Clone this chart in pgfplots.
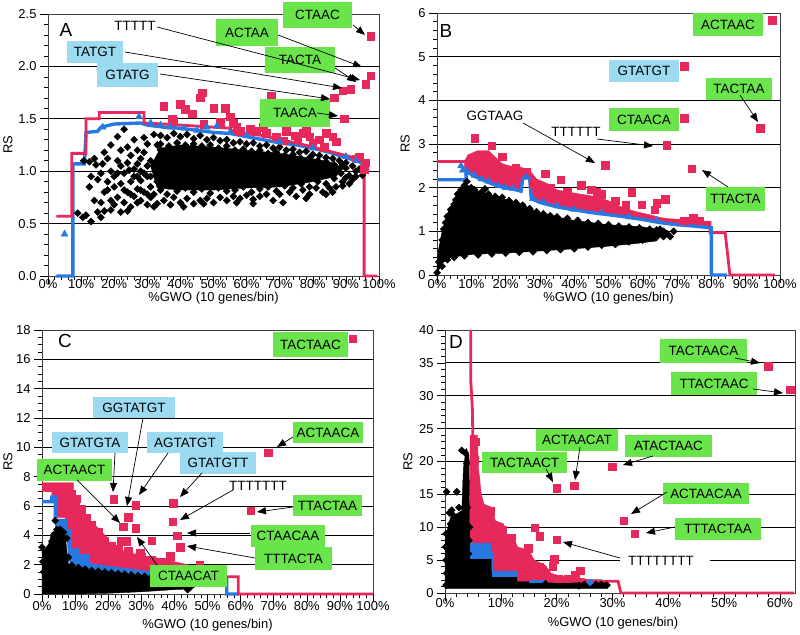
\documentclass[border=0pt]{standalone}
\usepackage{fontspec}
\setmainfont{Liberation Sans}
\usepackage{pgfplots}
\pgfplotsset{compat=1.18}
\usetikzlibrary{arrows.meta}

\definecolor{myred}{RGB}{230,40,90}
\definecolor{myblue}{RGB}{40,120,225}
\definecolor{mygreen}{RGB}{105,228,75}
\definecolor{myltblue}{RGB}{155,218,240}

\tikzset{
  lab/.style={font=\fontsize{13.5}{14}\selectfont, inner sep=0pt},
  arr/.style={-{Triangle[length=9bp,width=7bp]}, line width=0.7bp, black},
}
\newcommand{\gbox}[5]{\fill[mygreen] (#1,{635-#2}) rectangle (#3,{635-#4}); \node[lab] at ({(#1+#3)/2},{635-(#2+#4)/2}) {#5};}
\newcommand{\bbox}[5]{\fill[myltblue] (#1,{635-#2}) rectangle (#3,{635-#4}); \node[lab] at ({(#1+#3)/2},{635-(#2+#4)/2}) {#5};}
\newcommand{\wlab}[3]{\node[lab, fill=white, inner xsep=2bp, inner ysep=1.5bp] at (#1,{635-#2}) {#3};}
\newcommand{\arw}[4]{\draw[arr] (#1,{635-#2}) -- (#3,{635-#4});}

\pgfplotsset{
  panel/.style={
    scale only axis,
    anchor=south west,
    xmin=0, ymin=0,
    axis line style={line width=0.6bp, black!75},
    tick style={black, line width=0.6bp},
    tick align=outside,
    major tick length=8bp,
    minor tick length=4bp,
    xtick pos=left, ytick pos=left,
    ymajorgrids,
    grid style={black, line width=0.8bp},
    minor x tick num=4,
    tick label style={font=\fontsize{13}{13}\selectfont},
    label style={font=\fontsize{13}{13}\selectfont},
    /pgf/number format/assume math mode=true,
    xticklabel={\pgfmathprintnumber{\tick}\%},
    xlabel={\%GWO (10 genes/bin)},
    ylabel={RS},
    ylabel style={anchor=center},
    xlabel style={anchor=center},
    clip=false,
  },
  bk/.style={only marks, mark=square*, mark size=2.5, mark options={rotate=45, fill=black, draw=black}},
  rq/.style={only marks, mark=square*, mark size=3.8, mark options={fill=myred, draw=myred}},
  bt/.style={only marks, mark=triangle*, mark size=4, mark options={fill=myblue, draw=myblue}},
  rl/.style={myred, line width=2.8bp, no marks},
  bl/.style={myblue, line width=3.4bp, no marks},
  bfill/.style={fill=black, draw=black, no marks},
  rfill/.style={fill=myred, draw=myred, no marks},
  blfill/.style={fill=myblue, draw=myblue, no marks},
}

\begin{document}
\begin{tikzpicture}
% ---------------- Panel A ----------------
\begin{axis}[panel, at={(48bp,359bp)}, width=331bp, height=262bp,
  xmax=100, ymax=2.5, xtick={0,10,...,100}, ytick={0,0.5,1,1.5,2,2.5},
  minor y tick num=4,
  yticklabel style={/pgf/number format/.cd, fixed, fixed zerofill, precision=1},
  xticklabel style={yshift=8bp},
  xlabel style={at={(axis description cs:0.5,-0.086)}},
  ylabel style={at={(axis description cs:-0.121,0.5)}}]
\addplot[bfill] coordinates {(33,0.84) (40,0.82) (50,0.82) (60,0.84) (70,0.85) (80,0.9) (87,0.95) (89,1.02) (86,1.08) (80,1.12) (70,1.17) (60,1.2) (50,1.23) (40,1.25) (34,1.22) (31,1.05)} --cycle;
\addplot[bk] coordinates {(9,0.6) (10.5,0.56) (11.5,0.58) (13,0.52) (10.8,1.1) (12.5,1.09) (14.5,1.06) (16.5,1.07) (17,1.18) (21,1.33) (23,1.4) (12.5,0.85) (14,0.72) (15,0.61) (16,0.56) (19,0.63) (22,0.61) (17,0.8) (18,0.9) (21,0.75) (24,1.23) (24.5,1.01) (27,1.07) (30,1.26) (30,0.68) (33,0.69) (28,0.91) (15,0.92) (16,0.98) (18,0.82) (19,1.0) (19,0.72) (20,0.85) (20,0.95) (21,1.1) (22,0.88) (22,1.2) (23,0.7) (23,0.98) (24,0.8) (25,0.66) (25,0.9) (25,1.15) (26,0.76) (26,0.95) (26,1.3) (27,0.83) (27,1.2) (28,0.72) (28,1.0) (28,1.12) (29,0.8) (29,1.32) (30,0.95) (31,0.75) (31,1.1) (32,0.66) (32,1.35) (33,0.9) (34,1.2) (35,0.72) (37,0.68) (38,0.75) (40,0.7) (42,0.74) (44,0.69) (46,0.72) (48,0.74) (50,0.7) (52,0.75) (54,0.72) (56,0.76) (57,0.7) (58,0.74) (60,0.77) (62,0.73) (64,0.76) (66,0.78) (68,0.72) (70,0.78) (71,0.7) (73,0.8) (75,0.76) (77,0.82) (79,0.78) (81,0.84) (83,0.8) (85,0.84) (87,0.85) (89,0.9) (91,0.88) (93,0.95) (95,0.96) (34,1.34) (36,1.32) (38,1.36) (40,1.33) (42,1.35) (44,1.31) (46,1.34) (48,1.3) (50,1.32) (52,1.29) (54,1.3) (56,1.27) (58,1.28) (60,1.26) (62,1.27) (64,1.24) (66,1.25) (68,1.22) (70,1.23) (72,1.2) (74,1.21) (76,1.18) (78,1.19) (80,1.16) (82,1.15) (84,1.13) (86,1.12) (88,1.1) (90,1.08) (92,1.05) (93,1.0) (94,1.02) (86,0.8) (84,0.78) (89,0.86) (78,0.74) (62,0.69) (47,0.69) (41,0.66) (36,0.78) (33,1.0) (31,0.85) (32,1.05)
(34,0.82) (36.5,0.86) (39,0.81) (41.5,0.84) (44,0.8) (46.5,0.83) (49,0.79) (51.5,0.84) (54,0.81) (56.5,0.82) (59,0.85) (61.5,0.8) (64,0.83) (66.5,0.85) (69,0.81) (71.5,0.86) (74,0.84) (76.5,0.88) (79,0.85) (81.5,0.9) (84,0.88) (86.5,0.93) (88.5,0.98) (90,1.03)
(34,1.26) (36.5,1.24) (39,1.27) (41.5,1.25) (44,1.26) (46.5,1.24) (49,1.25) (51.5,1.22) (54,1.24) (56.5,1.2) (59,1.21) (61.5,1.19) (64,1.2) (66.5,1.17) (69,1.18) (71.5,1.15) (74,1.16) (76.5,1.12) (79,1.13) (81.5,1.1) (84,1.09) (86.5,1.06) (88.5,1.04)
(13,0.95) (14,1.12) (16,0.7) (17,0.62) (18,1.12) (19,1.25) (20,0.68) (21,0.98) (22,1.05) (23,0.82) (24,0.62) (24,1.08) (25,0.78) (26,1.02) (27,0.7) (27,0.95) (28,0.82) (29,0.98) (29,1.18) (30,0.78) (30,1.05) (31,0.95) (32,0.78) (33,1.25) (35,1.15) (35,0.95) (87,1.0) (89,1.06) (91,0.96) (92,0.92) (90,0.94)};
\addplot[rq] coordinates {(35,1.62) (37.5,1.50) (40,1.64) (41.5,1.59) (43.5,1.55) (46,1.70) (46.5,1.75) (50,1.60) (53.5,1.60) (55,1.52) (56,1.46) (58,1.38) (57,1.42) (67.5,1.72) (65,1.42) (66,1.36) (69,1.33) (71,1.29) (74.5,1.34) (77,1.36) (79,1.33) (80,1.27) (83.5,1.23) (86,1.33) (87,1.28) (86.5,1.70) (89,1.77) (91.5,1.78) (89.5,1.50) (96,1.83) (97.5,1.91) (97.5,2.29) (94,1.14) (96,1.08) (95.5,1.02) (93,1.12) (61,1.40) (63,1.38) (72,1.38) (75.5,1.30) (82,1.30) (78,1.40) (84,1.36) (47,1.45) (52,1.47) (38,1.48)};
\addplot[bl] coordinates {(2.5,0) (7.5,0) (7.5,1.07) (11,1.07) (11.5,1.37) (15,1.38) (16,1.42) (20,1.45) (28,1.46) (30,1.44) (35,1.42) (40,1.41) (45,1.39) (50,1.37) (55,1.36) (60,1.33) (65,1.3) (70,1.27) (75,1.25) (80,1.22) (85,1.18) (90,1.13) (94,1.09) (95,1.07)};
\addplot[bt] coordinates {(5,0.40) (16.5,1.42) (27.5,1.52) (31,1.46) (34,1.44) (37,1.42) (41,1.41) (45,1.39) (48,1.42) (51,1.43) (55,1.37) (60,1.34) (70,1.28) (80,1.22) (90,1.14) (93,1.1)};
\addplot[rl] coordinates {(2.5,0.57) (7.2,0.57) (7.2,1.17) (11.5,1.17) (11.5,1.50) (15.5,1.50) (15.5,1.56) (29,1.56) (29,1.46) (35,1.45) (40,1.44) (50,1.42) (55,1.41) (56,1.37) (65,1.34) (70,1.3) (75,1.27) (80,1.23) (85,1.19) (90,1.15) (95.5,1.1) (95.5,0) (99.5,0)};
\end{axis}

% ---------------- Panel B ----------------
\begin{axis}[panel, at={(437bp,360bp)}, width=343bp, height=262bp,
  xmax=100, ymax=6, xtick={0,10,...,100}, ytick={0,1,2,3,4,5,6},
  minor y tick num=4,
  xticklabel style={yshift=7bp},
  xlabel style={at={(axis description cs:0.5,-0.09)}},
  ylabel style={at={(axis description cs:-0.093,0.5)}}]
\addplot[rfill] coordinates {(8,2.45) (8,2.6) (9,2.75) (12,2.85) (15,2.85) (17,2.7) (19,2.55) (21,2.5) (24,2.48) (27,2.4) (29,2.2) (32,2.1) (35,1.95) (38,1.9) (42,1.85) (46,1.8) (50,1.7) (54,1.55) (58,1.45) (62,1.38) (66,1.3) (70,1.25) (76,1.22) (79.6,1.2) (79.6,1.1) (70,1.15) (60,1.27) (50,1.38) (40,1.49) (30,1.66) (27.5,1.75) (27,2.2) (25,2.2) (24.5,1.92) (18,2.03) (12,2.22)} --cycle;
\addplot[rq] coordinates {(11,3.13) (16,2.96) (19,2.71) (13,2.75) (14,2.6) (17,2.55) (21,2.4) (23,2.45) (26,2.35) (31.5,2.32) (36,2.18) (42,2.06) (45,1.95) (46.5,1.9) (48,1.85) (56.8,1.89) (59.7,1.61) (64,1.64) (66.5,1.74) (63.5,1.5) (74.7,1.30) (76.5,1.24) (72,1.24) (49,2.51) (67,2.97) (72.1,3.59) (72.1,4.78) (74.3,2.43) (94.2,3.36) (97.8,5.83) (33,2.0) (38,1.9) (52,1.7) (55,1.6) (28,2.1) (30,2.0)};
\addplot[bfill] coordinates {(0,0) (1,0.2) (2,0.3) (4,0.4) (8,0.45) (12,0.48) (20,0.5) (30,0.55) (40,0.6) (50,0.66) (58,0.72) (64,0.78) (66,0.95) (64,1.05) (60,1.1) (55,1.13) (50,1.15) (45,1.2) (40,1.25) (35,1.33) (30,1.43) (27,1.52) (25,1.62) (20,1.73) (17,1.8) (12,1.92) (9,2.05) (7,1.98) (5,1.7) (3,1.4) (1.5,1.0) (0.5,0.6) (0,0.3)} --cycle;
\addplot[bk] coordinates {(0,0.05) (0.5,0.3) (1,0.55) (1.5,0.8) (2,1.05) (2.5,1.2) (3,1.34) (3.5,1.25) (4,1.5) (5,1.62) (5.5,1.72) (6,1.85) (7,1.95) (8,2.05) (8.7,2.14) (10,2.0) (11,1.95) (13,1.9) (14,1.97) (15,1.85) (17,1.8) (19,1.78) (21,1.7) (23,1.66) (25,1.6) (27,1.52) (29,1.45) (31,1.4) (33,1.36) (35,1.33) (38,1.3) (41,1.25) (44,1.2) (47,1.18) (50,1.15) (53,1.12) (56,1.1) (59,1.08) (62,1.05) (64,1.03) (66,1.0) (63,0.85) (66,0.88) (68,0.88) (67,0.95) (60,0.8) (56,0.76) (52,0.7) (48,0.68) (44,0.64) (40,0.6) (36,0.58) (32,0.56) (28,0.53) (24,0.52) (20,0.5) (16,0.48) (12,0.46) (8,0.44) (5,0.4) (3,0.35) (1.5,0.2) (62,0.95) (65,1.05) (69,1.0)};
\addplot[rl] coordinates {(0,2.6) (8.5,2.6)};
\addplot[rl] coordinates {(45,1.55) (50,1.45) (55,1.38) (60,1.33) (65,1.28) (70,1.25) (75,1.22) (79.6,1.2) (79.6,0.97) (84,0.97) (85.4,0) (98.5,0)};
\addplot[bl] coordinates {(0,2.18) (8.5,2.18) (8.5,2.4) (10,2.3) (12,2.22) (15,2.12) (18,2.03) (22,1.97) (24.5,1.92) (25,2.22) (27,2.22) (27.5,1.75) (30,1.66) (35,1.56) (40,1.49) (45,1.43) (50,1.38) (55,1.33) (60,1.27) (65,1.2) (70,1.15) (75,1.12) (80,1.08) (80,0) (84.5,0)};
\addplot[bt] coordinates {(7,2.5) (7.5,2.4) (9,2.35) (11,2.28) (13,2.2) (15,2.15) (18,2.05) (20,2.0) (22,1.98) (26,2.25) (28,1.75) (31,1.68) (35,1.58) (40,1.5) (48,1.42) (56,1.33) (64,1.25)};
\end{axis}

% ---------------- Panel C ----------------
\begin{axis}[panel, at={(42bp,41bp)}, width=331bp, height=264bp,
  xmax=100, ymax=18, xtick={0,10,...,100}, ytick={0,2,...,18},
  minor y tick num=3,
  xticklabel style={yshift=4bp},
  xlabel style={at={(axis description cs:0.5,-0.117)}},
  ylabel style={at={(axis description cs:-0.103,0.5)}}]
\addplot[blfill] coordinates {(4,5.1) (7,5.1) (7,4.3) (8.5,4.3) (8.5,3.1) (11,3.1) (11,2.6) (14,2.6) (14,2.0) (17,1.9) (22,1.75) (27,1.6) (32,1.45) (40,1.3) (45,1.2) (45,0.95) (40,1.0) (32,1.15) (27,1.3) (22,1.42) (17,1.55) (14,1.65) (11,1.85) (8.5,2.0) (8,2.6) (7.5,3.8) (7,4.1) (6,4.3) (4,4.3)} --cycle;
\addplot[bfill] coordinates {(0,0) (0,3.0) (1,3.1) (2,3.4) (3,4.2) (4,4.3) (5,4.4) (6,4.3) (7,4.0) (7.5,3.0) (8,2.0) (10,1.85) (14,1.6) (18,1.5) (22,1.4) (26,1.3) (30,1.2) (34,1.1) (38,1.0) (42,0.95) (45,0.85) (45,0.35) (40,0.3) (30,0.15) (20,0.05) (10,0)} --cycle;
\addplot[bk] coordinates {(0,3.2) (4,5.0) (1,2.8) (2,3.0) (3,3.6) (3.5,4.0) (4.5,4.4) (5.5,4.4) (6.5,4.2) (7.5,3.8) (8,2.5) (9,1.95) (11,1.8) (13,1.7) (15,1.6) (17,1.55) (19,1.5) (21,1.45) (23,1.4) (25,1.35) (27,1.3) (29,1.25) (31,1.2) (33,1.15) (35,1.1) (37,1.05) (39,1.0) (41,0.95) (43,0.9) (45,0.85) (45,0.5) (44,0.3) (0.5,1.5) (0.3,2.2) (46,0.7)};
\addplot[rfill] coordinates {(0,7.6) (9.5,7.6) (9.5,7.0) (10,6.0) (12,5.7) (12.5,5.2) (15,4.8) (16.5,4.6) (19.5,3.9) (20,3.4) (23.5,3.0) (27,2.8) (30,2.6) (34,2.5) (38,2.3) (42,2.1) (46,1.9) (50,1.6) (54,1.4) (55.8,1.2) (55.8,1.0) (50,1.1) (45,1.2) (40,1.3) (32,1.45) (27,1.6) (22,1.75) (17,1.9) (14,2.0) (14,2.6) (11,2.6) (11,3.1) (8.5,3.1) (8.5,4.3) (7,4.3) (7,5.2) (4,5.2) (4,6.7) (3,6.7) (3,7.0) (0,7.0)} --cycle;
\addplot[rq] coordinates {(21.6,6.45) (28.3,6.07) (26.1,5.23) (24.6,4.59) (28.3,4.48) (24,3.6) (25.5,3.6) (33.2,3.64) (29.6,2.82) (39.7,6.18) (39.5,4.93) (40.9,3.98) (41.7,3.18) (38.7,2.59) (47.7,1.98) (68.3,9.64) (63,5.68) (93.8,17.4) (10.5,6.5) (12,5.8) (13.5,5.2) (15,4.7) (17,4.2) (19,3.6) (21,3.3) (23,3.1) (26,2.9) (30,2.5) (33,2.3) (36,2.2) (6,7.3) (8,7.0) (2,7.3) (9,6.8) (10,6.2)};
\addplot[bl] coordinates {(0,6.3) (3,6.3) (3,6.6) (4,6.6) (4,5.0) (7,5.0) (7,4.3) (8.5,4.3) (8.5,3.0) (11,3.0) (11,2.6) (14,2.6) (14,2.0) (17,1.9) (22,1.75) (27,1.6) (32,1.45) (40,1.3) (45,1.2) (50,1.1) (55.8,1.0) (55.8,0) (59.5,0)};
\addplot[rl] coordinates {(50,1.5) (55.8,1.18) (59.3,1.18) (59.3,0) (100,0)};
\end{axis}

% ---------------- Panel D ----------------
\begin{axis}[panel, at={(445bp,42bp)}, width=350bp, height=263bp,
  xmax=62.7, ymax=40, xtick={0,10,...,60}, ytick={0,5,...,40},
  minor y tick num=4,
  xticklabel style={yshift=6bp},
  xlabel style={at={(axis description cs:0.48,-0.114)}},
  ylabel style={at={(axis description cs:-0.106,0.5)}}]
\addplot[bfill] coordinates {(0,0.7) (0,8) (0.5,10) (1,11.5) (2,12) (3,12.5) (3.3,19) (3.8,22) (4.3,21) (4.5,5.3) (8.5,5.3) (8.5,2.6) (13,2.6) (13,2) (20,2) (28,2) (29,1.6) (29,0.7)} --cycle;
\addplot[bk] coordinates {(0.3,15.4) (2.1,15.4) (1.2,12.6) (0.8,12.2) (1.5,11.8) (2.5,13.0) (3,21.7) (3.6,21.3) (3.9,19.7) (3.8,17) (3.7,15) (4,13) (0.2,9) (0.1,7) (0.2,5) (0.3,3) (0.2,1.2) (1,10.5) (2,10) (3,11) (27,1.3) (28,1.3) (25,1.3) (22,1.5) (18,1.4) (29,1.2) (24,1.1) (4.3,8) (4.4,10) (4.2,6)};
\addplot[rfill] coordinates {(4.5,7.6) (4.5,24) (5.8,24) (6,19) (6.5,15) (7,13.5) (8.5,13) (9,11) (10.5,10.5) (11,9) (12.5,8) (13,7) (15,6.5) (16,5) (18,4.2) (19,3) (21,2.5) (25,2.2) (26,1.8) (13,1.8) (13,3.3) (8.4,3.3) (8.4,7.6)} --cycle;
\addplot[blfill] coordinates {(4.5,5.3) (4.5,7.6) (8.4,7.6) (8.4,3.3) (13,3.3) (13,2.5) (8.4,2.5) (8.4,5.3)} --cycle;
\addplot[blfill] coordinates {(15,1.6) (15,1.95) (18,1.95) (18,1.6)} --cycle;
\addplot[only marks, mark=square*, mark size=2.5, mark options={rotate=45, fill=myblue, draw=myblue}] coordinates {(26,1.6)};
\addplot[rq] coordinates {(5.4,23.0) (5.2,20.2) (5.5,17) (5.8,14) (6.5,12.5) (7,11) (8.1,12.4) (10.2,9.6) (11.9,8.3) (14.9,6.8) (16.1,9.9) (17,8.6) (20,8.1) (19.6,5.1) (19.3,4.1) (23.3,2.8) (24.2,3.4) (20.3,2.2) (14.6,3) (16.1,3.6) (17,4.0) (14,4.5) (12.8,5.8) (10.7,5.5) (9,7) (10,6.5) (12,6.5) (18,3) (22,2.2) (20,15.9) (23.1,16.3) (30,19.2) (32,11.0) (34,9.0) (57.9,34.5) (61.8,30.9)};
\addplot[rl] coordinates {(4.6,40) (4.6,32.5) (4.9,28) (5,23)};
\addplot[rl] coordinates {(18,1.8) (31,1.8) (31.5,0) (62.5,0)};
\end{axis}

% ---------------- annotations ----------------
\begin{scope}[x=1bp, y=1bp]
\path[use as bounding box] (0,0) rectangle (800,635);
\node[font=\fontsize{19}{19}\selectfont, inner sep=0pt] at (66,{635-30}) {A};
\node[font=\fontsize{19}{19}\selectfont, inner sep=0pt] at (446,{635-31}) {B};
\node[font=\fontsize{19}{19}\selectfont, inner sep=0pt] at (65,{635-341}) {C};
\node[font=\fontsize{19}{19}\selectfont, inner sep=0pt] at (456,{635-342}) {D};
% A
\gbox{283}{2}{352}{28}{CTAAC}
\gbox{216}{19}{278}{46}{ACTAA}
\gbox{265}{47}{335}{73}{TACTA}
\bbox{67}{41}{123}{63}{TATGT}
\bbox{97}{63}{158}{87}{GTATG}
\gbox{260}{99}{330}{127}{TAACA}
\wlab{135}{26}{TTTTT}
\arw{353}{25}{365}{35}
\arw{278}{35}{362}{67}
\arw{157}{27}{360}{80}
\arw{335}{68}{356}{82}
\arw{125}{52}{342}{88}
\arw{160}{74}{330}{99}
\arw{317}{113}{338}{116}
% B
\gbox{693}{13}{763}{36}{ACTAAC}
\bbox{609}{60}{679}{82}{GTATGT}
\gbox{706}{78}{772}{100}{TACTAA}
\gbox{609}{108}{679}{131}{CTAACA}
\gbox{706}{187}{765}{211}{TTACTA}
\wlab{495}{116}{GGTAAG}
\wlab{576}{132}{TTTTTT}
\arw{740}{95}{758}{122}
\arw{523}{123}{595}{163}
\arw{597}{139}{653}{146}
\arw{728}{187}{702}{170}
% C
\gbox{273}{332}{348}{357}{TACTAAC}
\bbox{93}{397}{175}{418}{GGTATGT}
\bbox{52}{432}{128}{453}{GTATGTA}
\bbox{147}{432}{223}{453}{AGTATGT}
\gbox{293}{422}{363}{443}{ACTAACA}
\bbox{180}{452}{256}{474}{GTATGTT}
\gbox{37}{459}{112}{481}{ACTAACT}
\gbox{293}{495}{362}{516}{TTACTAA}
\gbox{251}{525}{325}{547}{CTAACAA}
\gbox{255}{547}{332}{570}{TTTACTA}
\gbox{150}{565}{227}{587}{CTAACAT}
\wlab{258}{486}{TTTTTTT}
\arw{115}{453}{113}{492}
\arw{143}{418}{127}{506}
\arw{168}{453}{139}{495}
\arw{202}{473}{180}{497}
\arw{77}{480}{120}{523}
\arw{293}{437}{277}{447}
\arw{233}{490}{180}{520}
\arw{293}{507}{257}{512}
\arw{250}{533}{187}{533}
\arw{255}{558}{187}{546}
\arw{157}{565}{137}{537}
% D
\gbox{660}{339}{747}{363}{TACTAACA}
\gbox{671}{372}{757}{395}{TTACTAAC}
\gbox{536}{429}{618}{451}{ACTAACAT}
\gbox{625}{435}{712}{457}{ATACTAAC}
\gbox{482}{452}{567}{473}{TACTAACT}
\gbox{663}{483}{749}{504}{ACTAACAA}
\gbox{675}{518}{761}{540}{TTTACTAA}
\fill[white] (620,{635-552}) rectangle (710,{635-570});
\node[lab] at (661,{635-561}) {TTTTTTTT};
\arw{735}{358}{760}{363}
\arw{753}{389}{783}{393}
\arw{580}{447}{575}{480}
\arw{653}{456}{623}{465}
\arw{546}{469}{553}{482}
\arw{667}{492}{631}{514}
\arw{675}{527}{646}{533}
\arw{620}{558}{563}{542}
\end{scope}
\end{tikzpicture}
\end{document}
